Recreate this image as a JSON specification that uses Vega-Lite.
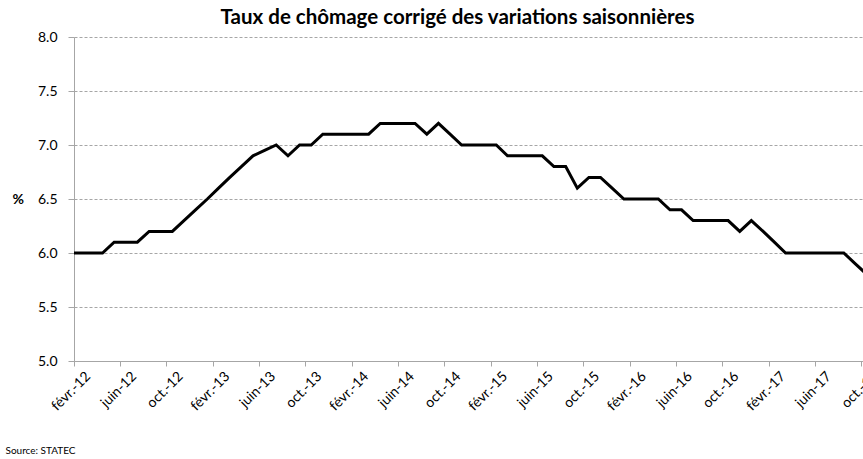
{
  "$schema": "https://vega.github.io/schema/vega-lite/v6.json",
  "autosize": "none",
  "width": 789,
  "height": 324,
  "padding": {"left": 74, "top": 37, "right": 0, "bottom": 98},
  "background": "white",
  "title": {
    "text": "Taux de chômage corrigé des variations saisonnières",
    "font": "Lato",
    "fontSize": 20.5,
    "fontWeight": "bold",
    "color": "#000000",
    "anchor": "middle",
    "dx": -11,
    "offset": 2
  },
  "data": {
    "values": [
      {"month": "2012-01-01", "rate": 6.0},
      {"month": "2012-02-01", "rate": 6.0},
      {"month": "2012-03-01", "rate": 6.0},
      {"month": "2012-04-01", "rate": 6.0},
      {"month": "2012-05-01", "rate": 6.1},
      {"month": "2012-06-01", "rate": 6.1},
      {"month": "2012-07-01", "rate": 6.1},
      {"month": "2012-08-01", "rate": 6.2},
      {"month": "2012-09-01", "rate": 6.2},
      {"month": "2012-10-01", "rate": 6.2},
      {"month": "2012-11-01", "rate": 6.3},
      {"month": "2012-12-01", "rate": 6.4},
      {"month": "2013-01-01", "rate": 6.5},
      {"month": "2013-02-01", "rate": 6.6},
      {"month": "2013-03-01", "rate": 6.7},
      {"month": "2013-04-01", "rate": 6.8},
      {"month": "2013-05-01", "rate": 6.9},
      {"month": "2013-06-01", "rate": 6.95},
      {"month": "2013-07-01", "rate": 7.0},
      {"month": "2013-08-01", "rate": 6.9},
      {"month": "2013-09-01", "rate": 7.0},
      {"month": "2013-10-01", "rate": 7.0},
      {"month": "2013-11-01", "rate": 7.1},
      {"month": "2013-12-01", "rate": 7.1},
      {"month": "2014-01-01", "rate": 7.1},
      {"month": "2014-02-01", "rate": 7.1},
      {"month": "2014-03-01", "rate": 7.1},
      {"month": "2014-04-01", "rate": 7.2},
      {"month": "2014-05-01", "rate": 7.2},
      {"month": "2014-06-01", "rate": 7.2},
      {"month": "2014-07-01", "rate": 7.2},
      {"month": "2014-08-01", "rate": 7.1},
      {"month": "2014-09-01", "rate": 7.2},
      {"month": "2014-10-01", "rate": 7.1},
      {"month": "2014-11-01", "rate": 7.0},
      {"month": "2014-12-01", "rate": 7.0},
      {"month": "2015-01-01", "rate": 7.0},
      {"month": "2015-02-01", "rate": 7.0},
      {"month": "2015-03-01", "rate": 6.9},
      {"month": "2015-04-01", "rate": 6.9},
      {"month": "2015-05-01", "rate": 6.9},
      {"month": "2015-06-01", "rate": 6.9},
      {"month": "2015-07-01", "rate": 6.8},
      {"month": "2015-08-01", "rate": 6.8},
      {"month": "2015-09-01", "rate": 6.6},
      {"month": "2015-10-01", "rate": 6.7},
      {"month": "2015-11-01", "rate": 6.7},
      {"month": "2015-12-01", "rate": 6.6},
      {"month": "2016-01-01", "rate": 6.5},
      {"month": "2016-02-01", "rate": 6.5},
      {"month": "2016-03-01", "rate": 6.5},
      {"month": "2016-04-01", "rate": 6.5},
      {"month": "2016-05-01", "rate": 6.4},
      {"month": "2016-06-01", "rate": 6.4},
      {"month": "2016-07-01", "rate": 6.3},
      {"month": "2016-08-01", "rate": 6.3},
      {"month": "2016-09-01", "rate": 6.3},
      {"month": "2016-10-01", "rate": 6.3},
      {"month": "2016-11-01", "rate": 6.2},
      {"month": "2016-12-01", "rate": 6.3},
      {"month": "2017-01-01", "rate": 6.2},
      {"month": "2017-02-01", "rate": 6.1},
      {"month": "2017-03-01", "rate": 6.0},
      {"month": "2017-04-01", "rate": 6.0},
      {"month": "2017-05-01", "rate": 6.0},
      {"month": "2017-06-01", "rate": 6.0},
      {"month": "2017-07-01", "rate": 6.0},
      {"month": "2017-08-01", "rate": 6.0},
      {"month": "2017-09-01", "rate": 5.9},
      {"month": "2017-10-01", "rate": 5.8}
    ]
  },
  "mark": {"type": "line", "color": "#000000", "strokeWidth": 3, "clip": true},
  "encoding": {
    "x": {
      "field": "month",
      "type": "temporal",
      "timeUnit": "utcyearmonth",
      "bandPosition": 0.5,
      "scale": {
        "type": "utc",
        "domain": [
          {"year": 2012, "month": 2, "date": 1, "utc": true},
          {"year": 2017, "month": 10, "date": 6, "utc": true}
        ]
      },
      "axis": {
        "values": [
          {"year": 2012, "month": 2, "date": 1, "utc": true},
          {"year": 2012, "month": 6, "date": 1, "utc": true},
          {"year": 2012, "month": 10, "date": 1, "utc": true},
          {"year": 2013, "month": 2, "date": 1, "utc": true},
          {"year": 2013, "month": 6, "date": 1, "utc": true},
          {"year": 2013, "month": 10, "date": 1, "utc": true},
          {"year": 2014, "month": 2, "date": 1, "utc": true},
          {"year": 2014, "month": 6, "date": 1, "utc": true},
          {"year": 2014, "month": 10, "date": 1, "utc": true},
          {"year": 2015, "month": 2, "date": 1, "utc": true},
          {"year": 2015, "month": 6, "date": 1, "utc": true},
          {"year": 2015, "month": 10, "date": 1, "utc": true},
          {"year": 2016, "month": 2, "date": 1, "utc": true},
          {"year": 2016, "month": 6, "date": 1, "utc": true},
          {"year": 2016, "month": 10, "date": 1, "utc": true},
          {"year": 2017, "month": 2, "date": 1, "utc": true},
          {"year": 2017, "month": 6, "date": 1, "utc": true},
          {"year": 2017, "month": 10, "date": 1, "utc": true}
        ],
        "labelExpr": "['janv.','févr.','mars','avr.','mai','juin','juil.','août','sept.','oct.','nov.','déc.'][utcmonth(datum.value)] + '-' + utcFormat(datum.value, '%y')",
        "labelAngle": -45,
        "labelPadding": 3,
        "labelOffset": 9,
        "labelFont": "Lato",
        "labelFontSize": 14,
        "labelColor": "#000000",
        "labelOverlap": false,
        "labelBound": false,
        "labelFlush": false,
        "grid": false,
        "domainColor": "#a6a6a6",
        "domainWidth": 1,
        "tickColor": "#a6a6a6",
        "tickSize": 5,
        "title": "Source: STATEC",
        "titleFont": "Lato",
        "titleFontSize": 10,
        "titleFontWeight": "normal",
        "titleColor": "#000000",
        "titleAnchor": "start",
        "titleAlign": "left",
        "titleBaseline": "alphabetic",
        "titleX": -69,
        "titleY": 92
      }
    },
    "y": {
      "field": "rate",
      "type": "quantitative",
      "scale": {"domain": [5, 8], "nice": false, "zero": false},
      "axis": {
        "values": [5, 5.5, 6, 6.5, 7, 7.5, 8],
        "format": ".1f",
        "labelFont": "Lato",
        "labelFontSize": 14,
        "labelColor": "#000000",
        "labelPadding": 11,
        "tickSize": 6,
        "tickColor": "#a6a6a6",
        "domainColor": "#a6a6a6",
        "grid": true,
        "gridColor": "#a6a6a6",
        "gridDash": [3, 2],
        "gridWidth": 1,
        "title": "%",
        "titleFont": "Lato",
        "titleFontSize": 14,
        "titleFontWeight": "bold",
        "titleColor": "#000000",
        "titleAngle": 0,
        "titleAlign": "left",
        "titleBaseline": "middle",
        "titleX": -62,
        "titleY": 162
      }
    }
  },
  "config": {
    "view": {"stroke": null}
  }
}
